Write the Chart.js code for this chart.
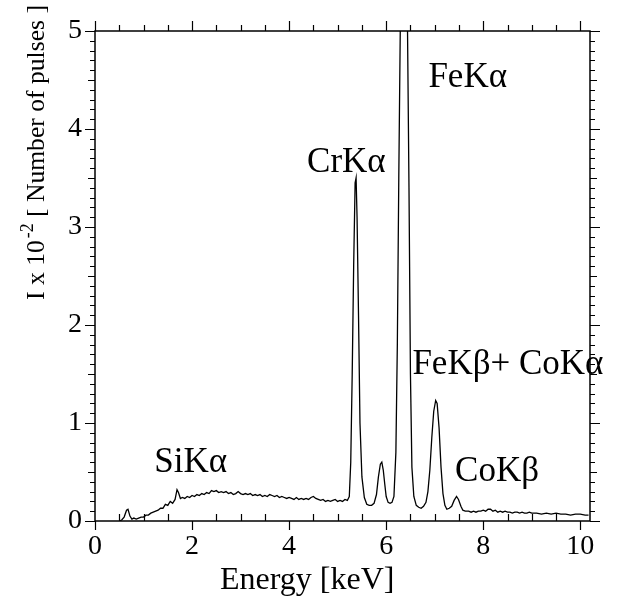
<!DOCTYPE html>
<html>
<head>
<meta charset="utf-8">
<script src="https://cdn.jsdelivr.net/npm/chart.js@4/dist/chart.umd.min.js"></script>
<style>
  body { margin: 0; background: #fff; }
  canvas { display: block; }
</style>
</head>
<body>
<canvas id="spectrum" width="623" height="601"></canvas>
<script>
// energy in keV, intensity in units of 100 pulses
var energy = [
  0.50, 0.55, 0.60, 0.65, 0.68, 0.72, 0.76, 0.80, 0.85, 0.90, 0.95, 1.00, 1.05, 1.10, 1.15, 1.20,
  1.25, 1.30, 1.35, 1.40, 1.45, 1.50, 1.55, 1.60, 1.65, 1.69, 1.72, 1.76, 1.80, 1.85, 1.90, 1.95,
  2.00, 2.05, 2.10, 2.15, 2.20, 2.25, 2.30, 2.35, 2.40, 2.45, 2.50, 2.55, 2.60, 2.65, 2.70, 2.75,
  2.80, 2.85, 2.90, 2.95, 3.00, 3.05, 3.10, 3.15, 3.20, 3.25, 3.30, 3.35, 3.40, 3.45, 3.50, 3.55,
  3.60, 3.65, 3.70, 3.75, 3.80, 3.85, 3.90, 3.95, 4.00, 4.05, 4.10, 4.15, 4.20, 4.25, 4.30, 4.35,
  4.40, 4.45, 4.50, 4.55, 4.60, 4.65, 4.70, 4.75, 4.80, 4.85, 4.90, 4.95, 5.00, 5.05, 5.10, 5.15,
  5.20, 5.24, 5.27, 5.30, 5.33, 5.36, 5.38, 5.40, 5.43, 5.46, 5.50, 5.55, 5.60, 5.65, 5.70, 5.75,
  5.80, 5.84, 5.88, 5.91, 5.94, 5.97, 6.00, 6.04, 6.08, 6.12, 6.16, 6.20, 6.23, 6.26, 6.29, 6.33,
  6.37, 6.41, 6.44, 6.47, 6.50, 6.53, 6.57, 6.62, 6.67, 6.72, 6.77, 6.82, 6.86, 6.90, 6.94, 6.98,
  7.02, 7.05, 7.09, 7.13, 7.17, 7.21, 7.25, 7.30, 7.35, 7.40, 7.45, 7.49, 7.54, 7.58, 7.63, 7.70,
  7.75, 7.80, 7.85, 7.90, 7.95, 8.00, 8.05, 8.10, 8.15, 8.20, 8.25, 8.30, 8.35, 8.40, 8.45, 8.50,
  8.55, 8.60, 8.65, 8.70, 8.75, 8.80, 8.85, 8.90, 8.95, 9.00, 9.10, 9.20, 9.30, 9.40, 9.50, 9.60,
  9.70, 9.80, 9.90, 10.00, 10.10, 10.17
];
var pulses = [
  0.00, 0.01, 0.04, 0.11, 0.12, 0.05, 0.02, 0.03, 0.02, 0.03, 0.04, 0.04, 0.06, 0.06, 0.08, 0.09,
  0.10, 0.11, 0.13, 0.13, 0.17, 0.16, 0.20, 0.18, 0.22, 0.32, 0.29, 0.23, 0.24, 0.23, 0.25, 0.24,
  0.26, 0.25, 0.27, 0.26, 0.28, 0.27, 0.29, 0.28, 0.31, 0.30, 0.31, 0.29, 0.30, 0.29, 0.30, 0.28,
  0.29, 0.27, 0.28, 0.30, 0.28, 0.27, 0.28, 0.27, 0.28, 0.26, 0.27, 0.26, 0.27, 0.25, 0.26, 0.25,
  0.27, 0.26, 0.25, 0.26, 0.24, 0.25, 0.24, 0.23, 0.24, 0.23, 0.22, 0.24, 0.22, 0.23, 0.22, 0.23,
  0.22, 0.24, 0.25, 0.23, 0.22, 0.21, 0.22, 0.20, 0.21, 0.20, 0.21, 0.22, 0.20, 0.21, 0.20, 0.22,
  0.21, 0.25, 0.60, 1.50, 2.60, 3.45, 3.50, 3.10, 2.10, 1.00, 0.45, 0.24, 0.17, 0.16, 0.16, 0.18,
  0.27, 0.45, 0.58, 0.60, 0.52, 0.38, 0.25, 0.19, 0.18, 0.19, 0.25, 0.70, 1.80, 3.50, 5.00, 5.80,
  6.00, 5.70, 5.00, 3.40, 1.50, 0.55, 0.25, 0.16, 0.14, 0.13, 0.15, 0.19, 0.30, 0.52, 0.85, 1.12,
  1.23, 1.20, 0.95, 0.55, 0.28, 0.16, 0.12, 0.13, 0.15, 0.21, 0.25, 0.22, 0.15, 0.11, 0.10, 0.10,
  0.09, 0.10, 0.09, 0.10, 0.10, 0.11, 0.10, 0.12, 0.12, 0.10, 0.11, 0.09, 0.10, 0.09, 0.10, 0.09,
  0.09, 0.08, 0.09, 0.09, 0.08, 0.09, 0.08, 0.08, 0.09, 0.08, 0.08, 0.07, 0.08, 0.07, 0.08, 0.07,
  0.07, 0.06, 0.07, 0.07, 0.06, 0.06
];

var xTicks = [0, 2, 4, 6, 8, 10];
var yTicks = [0, 1, 2, 3, 4, 5];

// peak labels, placed in data units (left edge, baseline)
var peakNames = ['SiK\u03b1', 'CrK\u03b1', 'FeK\u03b1', 'FeK\u03b2+ CoK\u03b1', 'CoK\u03b2'];
var peakX = [1.22, 4.37, 6.87, 6.54, 7.42];
var peakY = [0.50, 3.56, 4.43, 1.50, 0.41];

var serif = "'Liberation Serif', 'DejaVu Serif', serif";

var points = [];
for (var i = 0; i < energy.length; i++) {
  points.push({ x: energy[i], y: pulses[i] });
}

// box frame, minor ticks, axis titles and peak labels
var frame = {
  id: 'frame',
  afterDatasetsDraw: function(chart) {
    var ctx = chart.ctx;
    var a = chart.chartArea;
    var xs = chart.scales.x;
    var ys = chart.scales.y;
    ctx.save();
    ctx.strokeStyle = '#000';
    ctx.lineWidth = 1.5;
    ctx.strokeRect(a.left, a.top, a.right - a.left, a.bottom - a.top);

    ctx.lineWidth = 1.2;
    ctx.beginPath();
    for (var k = 0; k <= 20; k++) {
      var v = k * 0.5;
      var px = Math.round(xs.getPixelForValue(v)) + 0.5;
      var major = (k % 4 === 0);
      // bottom: majors outside, minors inside
      if (major) {
        ctx.moveTo(px, a.bottom); ctx.lineTo(px, a.bottom + 9);
      } else {
        ctx.moveTo(px, a.bottom); ctx.lineTo(px, a.bottom - 7);
      }
      // top: outside
      ctx.moveTo(px, a.top); ctx.lineTo(px, a.top - (major ? 10 : 6));
    }
    for (var j = 0; j <= 50; j++) {
      var vy = j * 0.1;
      var py = Math.round(ys.getPixelForValue(vy)) + 0.5;
      var big = (j % 10 === 0);
      var mid = (j % 5 === 0);
      var len = big ? 10 : (mid ? 7 : 5);
      ctx.moveTo(a.left, py); ctx.lineTo(a.left - len, py);
      ctx.moveTo(a.right, py); ctx.lineTo(a.right + len, py);
    }
    ctx.stroke();

    ctx.fillStyle = '#000';
    ctx.textBaseline = 'alphabetic';
    ctx.textAlign = 'left';

    ctx.font = '35px ' + serif;
    for (var n = 0; n < peakNames.length; n++) {
      ctx.fillText(peakNames[n], xs.getPixelForValue(peakX[n]), ys.getPixelForValue(peakY[n]));
    }

    ctx.font = '32px ' + serif;
    ctx.fillText('Energy [keV]', 220, 589);

    // rotated y title, squeezed along its length to span 295px like the figure
    var t1 = 'I x 10', t2 = '-2', t3 = ' [ Number of pulses ]';
    var size = 26, sup = 18;
    ctx.font = size + 'px ' + serif;
    var full = ctx.measureText(t1).width + ctx.measureText(t3).width + 2;
    ctx.font = sup + 'px ' + serif;
    full += ctx.measureText(t2).width;
    ctx.translate(44, 300);
    ctx.rotate(-Math.PI / 2);
    ctx.scale(295 / full, 1);
    ctx.font = size + 'px ' + serif;
    ctx.fillText(t1, 0, 0);
    var w = ctx.measureText(t1).width;
    ctx.font = sup + 'px ' + serif;
    ctx.fillText(t2, w + 2, -11);
    w += ctx.measureText(t2).width + 2;
    ctx.font = size + 'px ' + serif;
    ctx.fillText(t3, w, 0);
    ctx.restore();
  }
};

new Chart(document.getElementById('spectrum'), {
  type: 'scatter',
  data: {
    datasets: [{
      data: points,
      showLine: true,
      borderColor: '#000',
      borderWidth: 1.3,
      pointRadius: 0,
      tension: 0
    }]
  },
  options: {
    responsive: false,
    animation: false,
    devicePixelRatio: 1,
    layout: { padding: { left: 0, top: 31, right: 33, bottom: 0 } },
    plugins: { legend: { display: false }, tooltip: { enabled: false } },
    scales: {
      x: {
        type: 'linear',
        min: 0,
        max: 10.2,
        afterFit: function(s) { s.height = 80; },
        afterBuildTicks: function(s) { s.ticks = xTicks.map(function(v) { return { value: v }; }); },
        grid: { display: false, drawTicks: false },
        border: { display: false },
        ticks: {
          color: '#000',
          padding: 9,
          maxRotation: 0,
          font: { family: serif, size: 28 }
        }
      },
      y: {
        type: 'linear',
        min: 0,
        max: 5,
        afterFit: function(s) { s.width = 95; },
        afterBuildTicks: function(s) { s.ticks = yTicks.map(function(v) { return { value: v }; }); },
        grid: { display: false, drawTicks: false },
        border: { display: false },
        ticks: {
          color: '#000',
          padding: 13,
          font: { family: serif, size: 28 }
        }
      }
    }
  },
  plugins: [frame]
});
</script>
</body>
</html>
